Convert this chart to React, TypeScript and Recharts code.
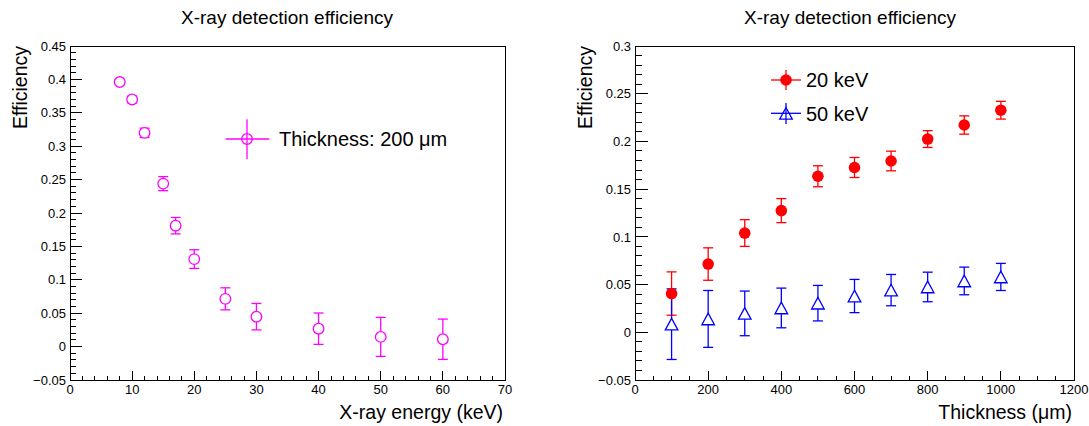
import React from 'react';
import {
  ScatterChart,
  Scatter,
  XAxis,
  YAxis,
  ErrorBar,
  ReferenceArea,
  Legend,
  Label,
} from 'recharts';

// left pad: efficiency vs x-ray energy (200 um sensor)
const energies = [8, 10, 12, 15, 17, 20, 25, 30, 40, 50, 60];
const effVsEnergy = [0.396, 0.37, 0.32, 0.244, 0.181, 0.131, 0.0715, 0.0448, 0.0268, 0.0145, 0.011];
const errVsEnergy = [0.004, 0.005, 0.007, 0.0105, 0.0123, 0.014, 0.0165, 0.0198, 0.0235, 0.0292, 0.0302];

// right pad: efficiency vs thickness
const thicknesses = [100, 200, 300, 400, 500, 600, 700, 800, 900, 1000];
const eff20keV = [0.0406, 0.0715, 0.104, 0.1275, 0.1635, 0.1727, 0.1795, 0.2025, 0.2172, 0.2327];
const err20keV = [0.0227, 0.017, 0.014, 0.0126, 0.011, 0.0105, 0.0103, 0.0088, 0.0096, 0.0093];
const eff50keV = [0.0085, 0.014, 0.0198, 0.0255, 0.0305, 0.038, 0.0442, 0.0475, 0.0538, 0.058];
const err50keV = [0.037, 0.0298, 0.0234, 0.0208, 0.0186, 0.0174, 0.0164, 0.0155, 0.0145, 0.0142];

// axis ticks (major values carry labels)
const energyTicks = [0, 10, 20, 30, 40, 50, 60, 70];
const effTicksLeft = [-0.05, 0, 0.05, 0.1, 0.15, 0.2, 0.25, 0.3, 0.35, 0.4, 0.45];
const thicknessTicks = [0, 200, 400, 600, 800, 1000, 1200];
const effTicksRight = [-0.05, 0, 0.05, 0.1, 0.15, 0.2, 0.25, 0.3];

const FONT = '"Liberation Sans", Arial, Helvetica, sans-serif';
const MAGENTA = '#ff00ff';
const RED = '#ff0000';
const BLUE = '#0000ff';

const energyData = energies.map((x, i) => ({ x, y: effVsEnergy[i], err: errVsEnergy[i] }));
const data20 = thicknesses.map((x, i) => ({ x, y: eff20keV[i], err: err20keV[i] }));
const data50 = thicknesses.map((x, i) => ({ x, y: eff50keV[i], err: err50keV[i] }));

// majors split into n minor divisions
function withMinors(majors: number[], n: number) {
  const out: number[] = [];
  for (let i = 0; i < majors.length - 1; i++) {
    const a = majors[i];
    const step = (majors[i + 1] - a) / n;
    for (let k = 0; k < n; k++) out.push(+(a + k * step).toFixed(6));
  }
  out.push(majors[majors.length - 1]);
  return out;
}

const isMajor = (majors: number[], v: number) => majors.some((m) => Math.abs(m - v) < 1e-9);
const fmt = (v: number) => String(+v.toFixed(4)).replace('-', '\u2212');

function makeYTick(majors: number[], majorLen: number, minorLen: number) {
  return (props: any) => {
    const { x, y, payload } = props;
    const major = isMajor(majors, payload.value);
    return (
      <g>
        <line
          x1={x}
          y1={y}
          x2={x + (major ? majorLen : minorLen)}
          y2={y}
          stroke="#000"
          shapeRendering="crispEdges"
        />
        {major && (
          <text x={x - 4} y={y} dy="0.36em" textAnchor="end" fontSize={13} fontFamily={FONT} fill="#000">
            {fmt(payload.value)}
          </text>
        )}
      </g>
    );
  };
}

function makeXTick(majors: number[]) {
  return (props: any) => {
    const { x, y, payload } = props;
    const major = isMajor(majors, payload.value);
    return (
      <g>
        <line x1={x} y1={y} x2={x} y2={y - (major ? 9 : 4.5)} stroke="#000" shapeRendering="crispEdges" />
        {major && (
          <text x={x} y={y + 13.5} textAnchor="middle" fontSize={13} fontFamily={FONT} fill="#000">
            {fmt(payload.value)}
          </text>
        )}
      </g>
    );
  };
}

const xTitle = (text: string) => (props: any) => {
  const vb = props.viewBox;
  return (
    <text x={vb.x + vb.width - 2} y={vb.y + 38.5} textAnchor="end" fontSize={19.5} fontFamily={FONT} fill="#000">
      {text}
    </text>
  );
};

const yTitle = (text: string) => (props: any) => {
  const vb = props.viewBox;
  const tx = vb.x + vb.width - 43.5;
  const ty = vb.y;
  return (
    <text
      x={tx}
      y={ty}
      textAnchor="end"
      fontSize={19.5}
      fontFamily={FONT}
      fill="#000"
      transform={`rotate(-90 ${tx} ${ty})`}
    >
      {text}
    </text>
  );
};

const OpenCircle = (props: any) => (
  <circle cx={props.cx} cy={props.cy} r={5.3} fill="#fff" stroke={MAGENTA} strokeWidth={1.3} />
);
const FullCircle = (props: any) => <circle cx={props.cx} cy={props.cy} r={5.8} fill={RED} />;
const OpenTriangle = (props: any) => {
  const { cx, cy } = props;
  return (
    <polygon
      points={`${cx},${cy - 5.8} ${cx - 6.3},${cy + 5.8} ${cx + 6.3},${cy + 5.8}`}
      fill="#fff"
      stroke={BLUE}
      strokeWidth={1.3}
    />
  );
};

const LeftLegend = () => (
  <svg width={260} height={50} style={{ overflow: 'visible', display: 'block' }}>
    <line x1={5.7} y1={25} x2={49.3} y2={25} stroke={MAGENTA} strokeWidth={1.3} />
    <line x1={27} y1={5.3} x2={27} y2={45} stroke={MAGENTA} strokeWidth={1.3} />
    <circle cx={27} cy={25} r={5.3} fill="none" stroke={MAGENTA} strokeWidth={1.3} />
    <text x={59} y={32.2} fontSize={20} fontFamily={FONT} fill="#000">
      Thickness: 200 μm
    </text>
  </svg>
);

const RightLegend = () => (
  <svg width={120} height={75} style={{ overflow: 'visible', display: 'block' }}>
    <line x1={1} y1={20} x2={31} y2={20} stroke={RED} strokeWidth={1.3} />
    <line x1={16} y1={10} x2={16} y2={30} stroke={RED} strokeWidth={1.3} />
    <circle cx={16} cy={20} r={5.8} fill={RED} />
    <text x={36} y={27} fontSize={20} fontFamily={FONT} fill="#000">
      20 keV
    </text>
    <line x1={1} y1={53.3} x2={31} y2={53.3} stroke={BLUE} strokeWidth={1.3} />
    <line x1={16} y1={43} x2={16} y2={64} stroke={BLUE} strokeWidth={1.3} />
    <polygon points="16,47.5 9.7,59.1 22.3,59.1" fill="none" stroke={BLUE} strokeWidth={1.3} />
    <text x={36} y={60.5} fontSize={20} fontFamily={FONT} fill="#000">
      50 keV
    </text>
  </svg>
);

const titleStyle: React.CSSProperties = {
  position: 'absolute',
  top: 8.3,
  width: 300,
  textAlign: 'center',
  fontFamily: FONT,
  fontSize: 19,
  lineHeight: '20px',
  color: '#000',
};

export default function App() {
  const leftYTicks = withMinors(effTicksLeft, 5);
  const leftXTicks = withMinors(energyTicks, 5);
  const rightYTicks = withMinors(effTicksRight, 5);
  const rightXTicks = withMinors(thicknessTicks, 4);

  return (
    <div style={{ position: 'fixed', left: 0, top: 0, width: 1089, height: 426, background: '#fff' }}>
      <div style={{ ...titleStyle, left: 287 - 150 }}>X-ray detection efficiency</div>
      <div style={{ ...titleStyle, left: 850 - 150 }}>X-ray detection efficiency</div>

      <div style={{ position: 'absolute', left: 0, top: 0 }}>
        <ScatterChart width={545} height={426} margin={{ top: 46, right: 40, bottom: 45, left: 69 }}>
          <XAxis
            type="number"
            dataKey="x"
            domain={[0, 70]}
            ticks={leftXTicks}
            interval={0}
            allowDataOverflow
            height={1}
            axisLine={false}
            tickLine={false}
            tickSize={0}
            tickMargin={0}
            tick={makeXTick(energyTicks)}
          >
            <Label content={xTitle('X-ray energy (keV)')} />
          </XAxis>
          <YAxis
            type="number"
            dataKey="y"
            domain={[-0.05, 0.45]}
            ticks={leftYTicks}
            interval={0}
            allowDataOverflow
            width={1}
            axisLine={false}
            tickLine={false}
            tickSize={0}
            tickMargin={0}
            tick={makeYTick(effTicksLeft, 12, 6)}
          >
            <Label content={yTitle('Efficiency')} />
          </YAxis>
          <ReferenceArea
            x1={0}
            x2={70}
            y1={-0.05}
            y2={0.45}
            fill="none"
            stroke="#000"
            strokeWidth={1}
            shapeRendering="crispEdges"
          />
          <Scatter data={energyData} shape={OpenCircle} isAnimationActive={false}>
            <ErrorBar dataKey="err" direction="y" width={5} stroke={MAGENTA} strokeWidth={1.3} />
          </Scatter>
          <Legend
            layout="horizontal"
            align="center"
            verticalAlign="middle"
            content={() => <LeftLegend />}
            wrapperStyle={{ position: 'absolute', left: 220, top: 114, width: 260, height: 50 }}
          />
        </ScatterChart>
      </div>

      <div style={{ position: 'absolute', left: 545, top: 0 }}>
        <ScatterChart width={544} height={426} margin={{ top: 46, right: 15, bottom: 45, left: 89 }}>
          <XAxis
            type="number"
            dataKey="x"
            domain={[0, 1200]}
            ticks={rightXTicks}
            interval={0}
            allowDataOverflow
            height={1}
            axisLine={false}
            tickLine={false}
            tickSize={0}
            tickMargin={0}
            tick={makeXTick(thicknessTicks)}
          >
            <Label content={xTitle('Thickness (μm)')} />
          </XAxis>
          <YAxis
            type="number"
            dataKey="y"
            domain={[-0.05, 0.3]}
            ticks={rightYTicks}
            interval={0}
            allowDataOverflow
            width={1}
            axisLine={false}
            tickLine={false}
            tickSize={0}
            tickMargin={0}
            tick={makeYTick(effTicksRight, 13, 6.5)}
          >
            <Label content={yTitle('Efficiency')} />
          </YAxis>
          <ReferenceArea
            x1={0}
            x2={1200}
            y1={-0.05}
            y2={0.3}
            fill="none"
            stroke="#000"
            strokeWidth={1}
            shapeRendering="crispEdges"
          />
          <Scatter data={data20} shape={FullCircle} isAnimationActive={false}>
            <ErrorBar dataKey="err" direction="y" width={5} stroke={RED} strokeWidth={1.3} />
          </Scatter>
          <Scatter data={data50} shape={OpenTriangle} isAnimationActive={false}>
            <ErrorBar dataKey="err" direction="y" width={5} stroke={BLUE} strokeWidth={1.3} />
          </Scatter>
          <Legend
            layout="horizontal"
            align="center"
            verticalAlign="middle"
            content={() => <RightLegend />}
            wrapperStyle={{ position: 'absolute', left: 225, top: 60, width: 120, height: 75 }}
          />
        </ScatterChart>
      </div>
    </div>
  );
}
